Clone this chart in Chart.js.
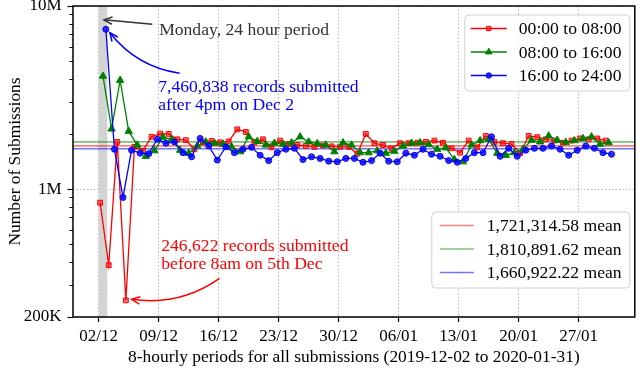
<!DOCTYPE html>
<html lang="en">
<head>
<meta charset="UTF-8">
<title>Submissions per 8-hour period</title>
<script src="https://cdn.jsdelivr.net/npm/chart.js"></script>
<style>
  html, body { margin: 0; padding: 0; background: #fff; }
  #wrap { width: 640px; height: 371px; }
</style>
</head>
<body>
<div id="wrap"><canvas id="subsChart" width="640" height="371"></canvas></div>
<script>
const FONT = '"Liberation Serif", "Times New Roman", serif';

// submissions per 8-hour period, in millions, one value per day (2019-12-02 .. 2020-01-30)
const night = [0.842, 0.384, 1.81, 0.246622, 1.70, 1.62, 1.93, 2.01, 2.00, 1.87,
  1.85, 1.65, 1.80, 1.83, 1.80, 1.82, 2.12, 2.05, 1.80, 1.87,
  1.69, 1.84, 1.76, 1.74, 1.72, 1.70, 1.73, 1.71, 1.70, 1.70,
  1.56, 2.00, 1.78, 1.74, 1.67, 1.78, 1.78, 1.79, 1.81, 1.84,
  1.79, 1.67, 1.58, 1.84, 1.69, 1.95, 1.81, 1.78, 1.76, 1.57,
  1.95, 1.92, 1.87, 1.84, 1.79, 1.84, 1.89, 1.87, 1.89, 1.84];
const daytime = [4.14, 2.13, 3.93, 2.07, 1.74, 1.51, 1.62, 1.92, 1.87, 1.63,
  1.57, 1.72, 1.81, 1.78, 1.76, 1.70, 1.60, 1.93, 1.82, 1.74,
  1.78, 1.76, 1.79, 1.93, 1.81, 1.77, 1.74, 1.60, 1.79, 1.74,
  1.58, 1.58, 1.62, 1.57, 1.61, 1.72, 1.78, 1.79, 1.75, 1.65,
  1.68, 1.45, 1.41, 1.74, 1.84, 1.87, 1.57, 1.53, 1.58, 1.65,
  1.85, 1.81, 1.95, 1.85, 1.80, 1.84, 1.89, 1.93, 1.76, 1.79];
const evening = [7.460838, 1.65, 0.90, 1.63, 1.57, 1.56, 1.87, 1.78, 1.81, 1.58,
  1.50, 1.89, 1.72, 1.44, 1.70, 1.58, 1.65, 1.69, 1.53, 1.43,
  1.58, 1.65, 1.67, 1.45, 1.50, 1.47, 1.42, 1.41, 1.47, 1.47,
  1.40, 1.43, 1.57, 1.42, 1.41, 1.57, 1.53, 1.65, 1.55, 1.51,
  1.43, 1.40, 1.47, 1.58, 1.58, 1.93, 1.51, 1.67, 1.51, 1.63,
  1.67, 1.67, 1.72, 1.65, 1.53, 1.63, 1.72, 1.67, 1.58, 1.55];

const seriesLabels = ['00:00 to 08:00', '08:00 to 16:00', '16:00 to 24:00'];
const meanValues = [1721314.58, 1810891.62, 1660922.22];
const meanLabels = ['1,721,314.58 mean', '1,810,891.62 mean', '1,660,922.22 mean'];

const xTickDays = [0, 7, 14, 21, 28, 35, 42, 49, 56];
const xTickLabels = ['02/12', '09/12', '16/12', '23/12', '30/12', '06/01', '13/01', '20/01', '27/01'];
const yTickValues = [2e5, 1e6, 1e7];
const yTickLabels = ['200K', '1M', '10M'];
const yMinorValues = [3e5, 4e5, 5e5, 6e5, 7e5, 8e5, 9e5, 2e6, 3e6, 4e6, 5e6, 6e6, 7e6, 8e6, 9e6];

const X_MIN = -3.0, X_MAX = 62.55;
const Y_MIN = 2e5, Y_MAX = 1e7;

// periods are plotted at the middle of their 8 hours
function toPoints(values, offset) {
  return values.map((v, i) => ({ x: i + offset, y: v * 1e6 }));
}
function flatLine(v) {
  return [{ x: X_MIN, y: v }, { x: X_MAX, y: v }];
}

const seriesStyle = [
  { color: '#ff0000', fill: 'rgba(255,0,0,0.55)', shape: 'rect', r: 3.4 },
  { color: '#008000', fill: '#008000', shape: 'triangle', r: 4.2 },
  { color: '#0000ff', fill: 'rgba(0,0,255,0.8)', shape: 'circle', r: 3 }
];
const meanColors = ['rgba(255,0,0,0.5)', 'rgba(0,128,0,0.5)', 'rgba(0,0,255,0.55)'];

// text notes, anchored in data coordinates (day, submissions)
const notes = [
  { lines: ['Monday, 24 hour period'], color: '#333333', at: [7.05, 7.33e6], tail: [6.25, 7.95e6], tip: [0.62, 8.4e6], bend: 0 },
  { lines: ['7,460,838 records submitted', 'after 4pm on Dec 2'], color: '#0000ff', at: [6.95, 3.58e6], tail: [9.45, 4.29e6], tip: [1.3, 7.14e6], bend: 0.2 },
  { lines: ['246,622 records submitted', 'before 8am on 5th Dec'], color: '#ff0000', at: [7.3, 0.484e6], tail: [14.1, 0.325e6], tip: [3.85, 0.25e6], bend: 0.2 }
];

function drawMarker(ctx, shape, x, y, r, stroke, fill) {
  ctx.beginPath();
  if (shape === 'rect') {
    const s = r * Math.SQRT1_2;
    ctx.rect(x - s, y - s, 2 * s, 2 * s);
  } else if (shape === 'triangle') {
    ctx.moveTo(x, y - r);
    ctx.lineTo(x + r * 0.866, y + r * 0.5);
    ctx.lineTo(x - r * 0.866, y + r * 0.5);
    ctx.closePath();
  } else {
    ctx.arc(x, y, r, 0, Math.PI * 2);
  }
  ctx.fillStyle = fill;
  ctx.fill();
  ctx.lineWidth = 1;
  ctx.strokeStyle = stroke;
  ctx.stroke();
}

function arrowHead(ctx, tx, ty, fx, fy, len) {
  const a = Math.atan2(ty - fy, tx - fx);
  ctx.beginPath();
  ctx.moveTo(tx - len * Math.cos(a - 0.42), ty - len * Math.sin(a - 0.42));
  ctx.lineTo(tx, ty);
  ctx.lineTo(tx - len * Math.cos(a + 0.42), ty - len * Math.sin(a + 0.42));
  ctx.stroke();
}

function legendBox(ctx, x, y, w, h) {
  ctx.save();
  ctx.beginPath();
  ctx.roundRect(x, y, w, h, 4);
  ctx.fillStyle = 'rgba(255,255,255,0.85)';
  ctx.fill();
  ctx.strokeStyle = '#d0d0d0';
  ctx.lineWidth = 1;
  ctx.stroke();
  ctx.restore();
}

const decor = {
  id: 'decor',
  beforeDatasetsDraw(chart) {
    const { ctx, chartArea: a, scales: { x } } = chart;
    // grey band for the first (Monday) day
    ctx.save();
    ctx.fillStyle = '#d3d3d3';
    ctx.fillRect(x.getPixelForValue(0), a.top, x.getPixelForValue(1) - x.getPixelForValue(0), a.bottom - a.top);
    ctx.restore();
  },
  afterDatasetsDraw(chart) {
    const { ctx, chartArea: a, scales: { x, y } } = chart;
    ctx.save();

    // frame
    ctx.strokeStyle = '#000';
    ctx.lineWidth = 1.5;
    ctx.strokeRect(a.left, a.top, a.right - a.left, a.bottom - a.top);

    // minor ticks of the log axis
    ctx.lineWidth = 1;
    yMinorValues.forEach(v => {
      const py = Math.round(y.getPixelForValue(v)) + 0.5;
      ctx.beginPath();
      ctx.moveTo(a.left - 3.5, py);
      ctx.lineTo(a.left, py);
      ctx.stroke();
    });

    // notes with arrows
    ctx.font = '17.6px ' + FONT;
    ctx.textBaseline = 'middle';
    ctx.textAlign = 'left';
    notes.forEach(n => {
      ctx.fillStyle = n.color;
      const tx = x.getPixelForValue(n.at[0]);
      const ty = y.getPixelForValue(n.at[1]);
      n.lines.forEach((line, i) => ctx.fillText(line, tx, ty + i * 17.5));

      const x1 = x.getPixelForValue(n.tail[0]), y1 = y.getPixelForValue(n.tail[1]);
      const x2 = x.getPixelForValue(n.tip[0]), y2 = y.getPixelForValue(n.tip[1]);
      const cx = (x1 + x2) / 2 + n.bend * (y2 - y1);
      const cy = (y1 + y2) / 2 - n.bend * (x2 - x1);
      ctx.strokeStyle = n.color;
      ctx.lineWidth = 1.5;
      ctx.beginPath();
      ctx.moveTo(x1, y1);
      ctx.quadraticCurveTo(cx, cy, x2, y2);
      ctx.stroke();
      arrowHead(ctx, x2, y2, cx, cy, 9);
    });

    // legend of the three series
    const l1 = { x: a.right - 170, y: a.top + 9, w: 165, h: 76 };
    legendBox(ctx, l1.x, l1.y, l1.w, l1.h);
    seriesLabels.forEach((label, i) => {
      const s = seriesStyle[i];
      const ry = l1.y + 13.5 + i * 23.5;
      ctx.strokeStyle = s.color;
      ctx.lineWidth = 1.3;
      ctx.beginPath();
      ctx.moveTo(l1.x + 6, ry);
      ctx.lineTo(l1.x + 42, ry);
      ctx.stroke();
      drawMarker(ctx, s.shape, l1.x + 24, ry, s.r * 0.9, s.color, s.fill);
      ctx.fillStyle = '#000';
      ctx.fillText(label, l1.x + 54, ry + 1);
    });

    // legend of the means
    const l2 = { x: a.right - 203, y: a.bottom - 105, w: 198, h: 76 };
    legendBox(ctx, l2.x, l2.y, l2.w, l2.h);
    meanLabels.forEach((label, i) => {
      const ry = l2.y + 13.5 + i * 23.5;
      ctx.strokeStyle = meanColors[i];
      ctx.lineWidth = 1.5;
      ctx.beginPath();
      ctx.moveTo(l2.x + 8, ry);
      ctx.lineTo(l2.x + 42, ry);
      ctx.stroke();
      ctx.fillStyle = '#000';
      ctx.fillText(label, l2.x + 55, ry + 1);
    });

    ctx.restore();
  }
};

const seriesData = [night, daytime, evening];
const datasets = seriesData.map((vals, i) => ({
  label: seriesLabels[i],
  data: toPoints(vals, (2 * i + 1) / 6),
  borderColor: seriesStyle[i].color,
  backgroundColor: seriesStyle[i].fill,
  pointStyle: seriesStyle[i].shape,
  pointRadius: seriesStyle[i].r,
  pointBorderWidth: 1,
  borderWidth: 1.3,
  order: 3 - i
}));
meanValues.forEach((m, i) => datasets.push({
  label: meanLabels[i],
  data: flatLine(m),
  borderColor: meanColors[i],
  borderWidth: 1.6,
  pointRadius: 0,
  order: 10
}));

new Chart(document.getElementById('subsChart'), {
  type: 'line',
  data: { datasets: datasets },
  options: {
    responsive: false,
    animation: false,
    layout: { padding: { left: 0, top: 6, right: 4, bottom: 0 } },
    plugins: { legend: { display: false }, tooltip: { enabled: false } },
    scales: {
      x: {
        type: 'linear',
        min: X_MIN,
        max: X_MAX,
        afterBuildTicks: s => { s.ticks = xTickDays.map(v => ({ value: v })); },
        afterFit: s => { s.height = 54; s.paddingLeft = 0; s.paddingRight = 0; },
        ticks: {
          autoSkip: false, maxRotation: 0, padding: 4, color: '#000',
          font: { family: FONT, size: 17 },
          callback: v => xTickLabels[xTickDays.indexOf(v)] || ''
        },
        grid: { color: '#b8b8b8', lineWidth: 1, tickLength: 5, tickColor: '#000', tickWidth: 1.2 },
        border: { display: false, dash: [1.5, 2] },
        title: {
          display: true, text: '8-hourly periods for all submissions (2019-12-02 to 2020-01-31)',
          color: '#000', font: { family: FONT, size: 17.4 }, padding: { top: 0, bottom: 3 }
        }
      },
      y: {
        type: 'logarithmic',
        min: Y_MIN,
        max: Y_MAX,
        afterBuildTicks: s => { s.ticks = yTickValues.map(v => ({ value: v })); },
        afterFit: s => { s.width = 73; s.paddingTop = 0; s.paddingBottom = 0; },
        ticks: {
          padding: 6, color: '#000',
          font: { family: FONT, size: 17 },
          callback: v => yTickLabels[yTickValues.indexOf(v)] || ''
        },
        grid: { color: '#b8b8b8', lineWidth: 1, tickLength: 5.5, tickColor: '#000', tickWidth: 1.2 },
        border: { display: false, dash: [1.5, 2] },
        title: {
          display: true, text: 'Number of Submissions',
          color: '#000', font: { family: FONT, size: 17.4 }, padding: { top: 5, bottom: 0 }
        }
      }
    }
  },
  plugins: [decor]
});
</script>
</body>
</html>
